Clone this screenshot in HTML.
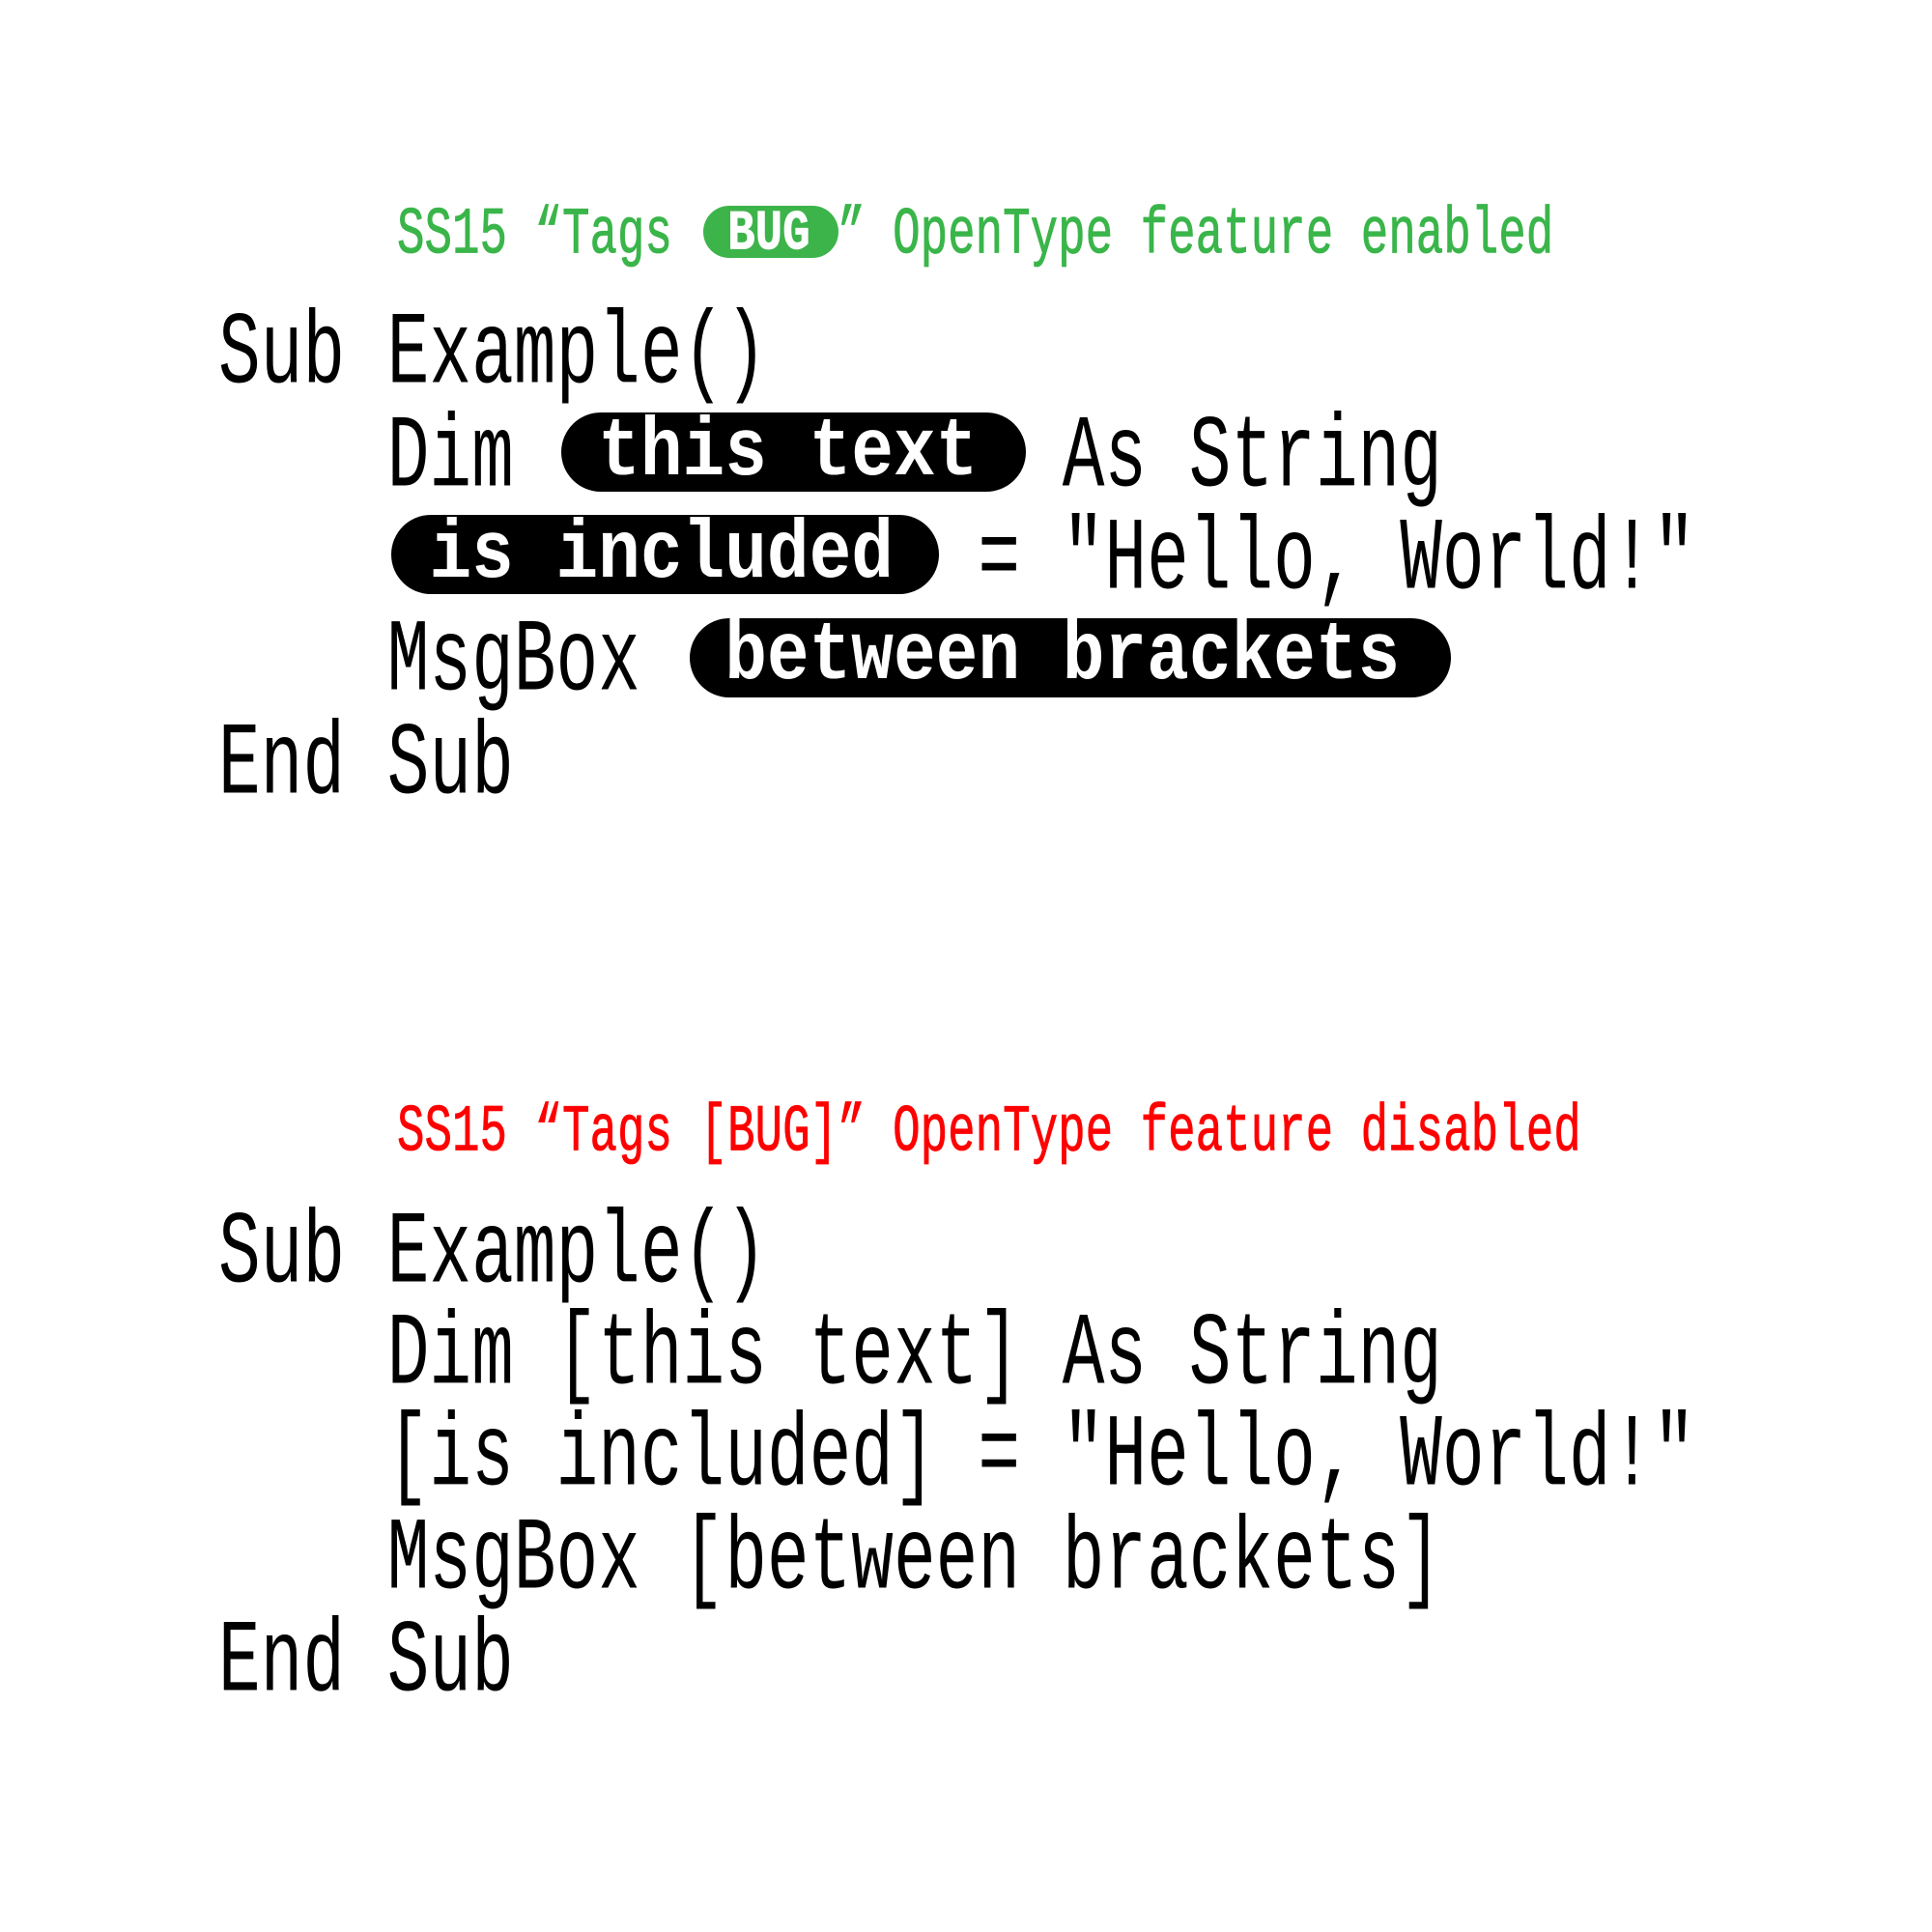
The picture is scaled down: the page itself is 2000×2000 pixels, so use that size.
<!DOCTYPE html>
<html><head><meta charset="utf-8"><style>
html,body{margin:0;padding:0;background:#fff;}
#c{position:relative;width:2000px;height:2000px;overflow:hidden;background:#fff;}
.l{position:absolute;left:226px;white-space:pre;font-family:"Liberation Mono",monospace;font-size:72.8px;line-height:1;color:#000;transform:scaleY(1.47);transform-origin:0 0.767em;}
.h{position:absolute;left:411px;white-space:pre;font-family:"Liberation Mono",monospace;font-size:47.5px;line-height:1;transform:scaleY(1.45);transform-origin:0 0.767em;-webkit-text-stroke:0.6px currentColor;}
.p{position:absolute;background:#000;border-radius:41px;}
.w{color:#fff;font-weight:bold;display:inline-block;transform:translateY(-8px) scaleY(0.8);transform-origin:0 0.767em;}
.h .w{transform:translateY(-3px) scaleY(0.85);}
.t{color:transparent;}
</style></head><body><div id="c">
<div class="p" style="left:581px;top:427px;width:481px;height:82px"></div>
<div class="p" style="left:405px;top:533px;width:567px;height:82px"></div>
<div class="p" style="left:714px;top:640px;width:788px;height:82px"></div>
<div class="p" style="left:728px;top:213px;width:140px;height:54px;background:#3cb44a;border-radius:27px"></div>

<div class="h" style="top:227px;color:#3ab54a">SS15 “Tags <span class="t">[</span><span class="w">BUG</span><span class="t">]</span>” OpenType feature enabled</div>
<div class="l" style="top:341px">Sub Example()</div>
<div class="l" style="top:448px">    Dim <span class="t">[</span><span class="w">this text</span><span class="t">]</span> As String</div>
<div class="l" style="top:554px">    <span class="t">[</span><span class="w">is included</span><span class="t">]</span> = "Hello, World!"</div>
<div class="l" style="top:659px">    MsgBox <span class="t">[</span><span class="w">between brackets</span><span class="t">]</span></div>
<div class="l" style="top:766px">End Sub</div>

<div class="h" style="top:1156px;color:#ff0000">SS15 “Tags [BUG]” OpenType feature disabled</div>
<div class="l" style="top:1272px">Sub Example()</div>
<div class="l" style="top:1377px">    Dim [this text] As String</div>
<div class="l" style="top:1482px">    [is included] = "Hello, World!"</div>
<div class="l" style="top:1589px">    MsgBox [between brackets]</div>
<div class="l" style="top:1695px">End Sub</div>
</div></body></html>
